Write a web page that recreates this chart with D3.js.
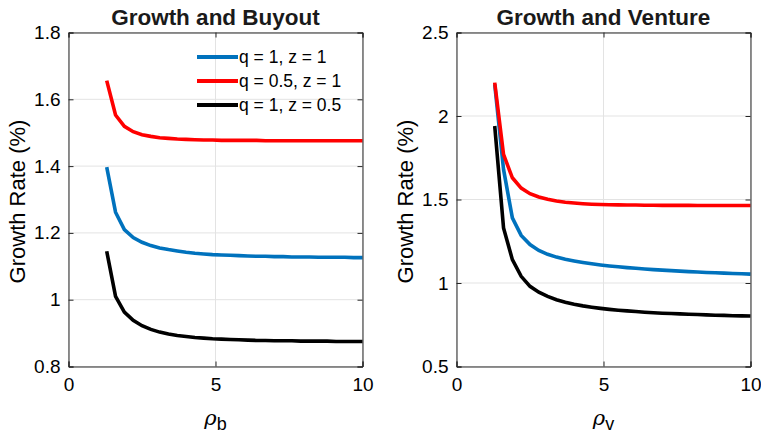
<!DOCTYPE html>
<html><head><meta charset="utf-8">
<script src="https://cdn.jsdelivr.net/npm/d3@7"></script>
<style>body{margin:0;background:#fff}svg{display:block}text{font-family:"Liberation Sans",Arial,Helvetica,sans-serif}</style>
</head><body><svg id="c" width="761" height="438"></svg>
<script>
const rho = [1.3,1.6,1.9,2.2,2.5,2.8,3.1,3.4,3.7,4.0,4.3,4.6,4.9,5.2,5.5,5.8,6.1,6.4,6.7,7.0,7.3,7.6,7.9,8.2,8.5,8.8,9.1,9.4,9.7,10.0];

const buyoutBlue  = [1.397,1.262,1.210,1.186,1.172,1.162,1.155,1.150,1.146,1.142,1.139,1.137,1.135,1.134,1.133,1.132,1.131,1.130,1.130,1.129,1.129,1.128,1.128,1.128,1.127,1.127,1.127,1.127,1.126,1.126];
const buyoutRed   = [1.656,1.553,1.519,1.503,1.494,1.489,1.485,1.483,1.481,1.480,1.479,1.478,1.478,1.477,1.477,1.477,1.477,1.477,1.476,1.476,1.476,1.476,1.476,1.476,1.476,1.476,1.476,1.476,1.476,1.476];
const buyoutBlack = [1.145,1.010,0.963,0.938,0.922,0.911,0.903,0.897,0.893,0.890,0.887,0.885,0.883,0.882,0.881,0.880,0.879,0.878,0.878,0.877,0.877,0.877,0.876,0.876,0.876,0.876,0.875,0.875,0.875,0.875];

const ventureBlue  = [2.190,1.680,1.390,1.285,1.230,1.195,1.172,1.155,1.142,1.132,1.123,1.115,1.108,1.102,1.097,1.092,1.088,1.084,1.080,1.077,1.074,1.071,1.068,1.066,1.063,1.061,1.059,1.057,1.055,1.053];
const ventureRed   = [2.200,1.770,1.630,1.568,1.535,1.515,1.501,1.491,1.484,1.479,1.475,1.472,1.470,1.469,1.468,1.467,1.467,1.466,1.466,1.465,1.465,1.465,1.465,1.464,1.464,1.464,1.464,1.464,1.464,1.464];
const ventureBlack = [1.940,1.330,1.140,1.040,0.980,0.945,0.920,0.900,0.885,0.873,0.863,0.855,0.848,0.842,0.837,0.833,0.829,0.825,0.822,0.819,0.817,0.815,0.813,0.811,0.809,0.807,0.806,0.804,0.803,0.802];

const legendLabels = ["q = 1, z = 1","q = 0.5, z = 1","q = 1, z = 0.5"];
const colors = ["#0072BD","#FF0000","#000000"];
const xTicks = [0,5,10];
const buyoutYTicks = [0.8,1,1.2,1.4,1.6,1.8];
const ventureYTicks = [0.5,1,1.5,2,2.5];

const svg = d3.select("#c");

function panel(opt){
  const {left,right,top,bottom,yDomain,yTicks,series,title,sub,legend,ylabX} = opt;
  const x = d3.scaleLinear().domain([0,10]).range([left,right]);
  const y = d3.scaleLinear().domain(yDomain).range([bottom,top]);
  const g = svg.append("g");
  g.selectAll(".gx").data(xTicks).join("line")
    .attr("x1",d=>x(d)).attr("x2",d=>x(d)).attr("y1",top).attr("y2",bottom)
    .attr("stroke","#e3e3e3").attr("stroke-width",1);
  g.selectAll(".gy").data(yTicks).join("line")
    .attr("y1",d=>y(d)).attr("y2",d=>y(d)).attr("x1",left).attr("x2",right)
    .attr("stroke","#e3e3e3").attr("stroke-width",1);
  const line = d3.line().x((d,i)=>x(rho[i])).y(d=>y(d));
  series.forEach((s,k)=>{
    g.append("path").datum(s).attr("d",line).attr("fill","none")
      .attr("stroke",colors[k]).attr("stroke-width",3.6).attr("stroke-linejoin","miter");
  });
  const axC = "#262626";
  const ax = d3.axisBottom(x).tickValues(xTicks).tickSize(-5).tickFormat(d3.format("d")).tickPadding(11);
  const axT = d3.axisTop(x).tickValues(xTicks).tickSize(-5).tickFormat("");
  const ay = d3.axisLeft(y).tickValues(yTicks).tickSize(-5).tickFormat(d=>String(d)).tickPadding(8);
  const ayR = d3.axisRight(y).tickValues(yTicks).tickSize(-5).tickFormat("");
  [[ax,`translate(0,${bottom})`],[axT,`translate(0,${top})`],[ay,`translate(${left},0)`],[ayR,`translate(${right},0)`]].forEach(([a,t])=>{
    const gg = g.append("g").attr("transform",t).call(a);
    gg.selectAll("path").attr("stroke",axC).attr("stroke-width",1);
    gg.selectAll("line").attr("stroke",axC);
    gg.selectAll("text").attr("fill","#000").style("font-size","19px");
  });
  g.append("text").attr("x",(left+right)/2).attr("y",25).attr("text-anchor","middle")
    .style("font-size","22.5px").style("font-weight","bold").attr("fill","#1a1a1a").text(title);
  g.append("text").attr("transform",`translate(${ylabX},${(top+bottom)/2 + 2}) rotate(-90)`)
    .attr("text-anchor","middle").style("font-size","22px").attr("fill","#000").text("Growth Rate (%)");
  const xl = g.append("text").attr("x",(left+right)/2).attr("y",425).attr("text-anchor","middle").attr("fill","#000");
  xl.append("tspan").style("font-family","'DejaVu Serif',serif").style("font-style","italic").style("font-size","21px").text("ρ");
  xl.append("tspan").attr("dy",5).style("font-size","18px").text(sub);
  if(legend){
    const lg = g.append("g");
    legendLabels.forEach((lab,k)=>{
      const yy = 57 + k*24;
      lg.append("line").attr("x1",197).attr("x2",238).attr("y1",yy).attr("y2",yy)
        .attr("stroke",colors[k]).attr("stroke-width",4);
      lg.append("text").attr("x",239).attr("y",yy+6).style("font-size","17.5px").attr("fill","#000").text(lab);
    });
  }
}

panel({left:68.5,right:362.5,top:32.5,bottom:366.5,yDomain:[0.8,1.8],yTicks:buyoutYTicks,
  series:[buyoutBlue,buyoutRed,buyoutBlack],title:"Growth and Buyout",sub:"b",legend:true,ylabX:25});
panel({left:456.5,right:750.5,top:32.5,bottom:366.5,yDomain:[0.5,2.5],yTicks:ventureYTicks,
  series:[ventureBlue,ventureRed,ventureBlack],title:"Growth and Venture",sub:"v",legend:false,ylabX:413});
</script></body></html>
